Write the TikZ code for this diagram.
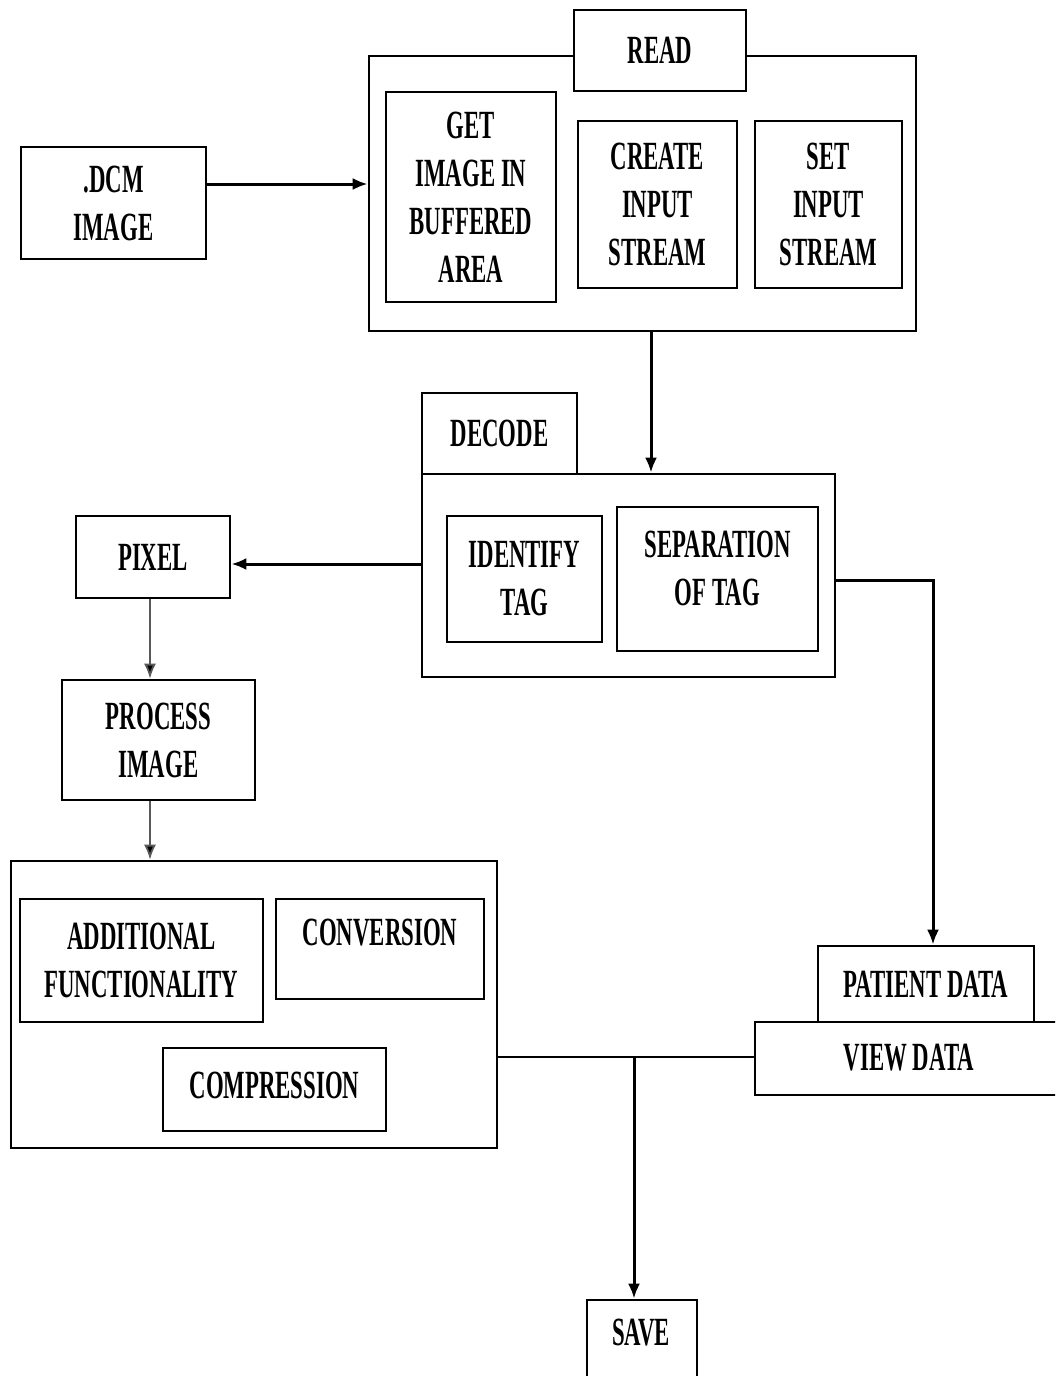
\documentclass[tikz,border=0pt]{standalone}
\usepackage{fontspec}
\usetikzlibrary{arrows.meta}
\newfontfamily\lblfont{Liberation Serif}[FakeStretch=0.57,UprightFont=*,UprightFeatures={FakeBold=0}]
\newcommand{\lblsize}{\lblfont\bfseries\fontsize{40}{48}\selectfont}
\tikzset{
  box/.style={draw, line width=2.6pt, rectangle, inner sep=0pt, align=center, fill=white, font=\lblsize},
  txt/.style={inner sep=0pt, align=center, font=\lblsize},
  arr/.style={line width=3pt, -{Latex[length=15pt,width=12pt]}},
  thinarr/.style={line width=1.8pt, draw=black!65, -{Latex[length=15pt,width=12pt,fill=black]}},
  plain/.style={line width=2.8pt}
}
\begin{document}
\begin{tikzpicture}[x=1pt,y=-1pt]
\useasboundingbox (0,0) rectangle (1055,1376);
\fill[white] (0,0) rectangle (1055,1376);
\clip (0,0) rectangle (1055,1376);

% READ group
\node[box, minimum width=547pt, minimum height=275pt] (readouter) at (642.5,193.5) {};
\node[box, minimum width=172pt, minimum height=81pt] (readlbl) at (660,50.5) {READ};
\node[box, minimum width=170pt, minimum height=210pt] (getimg) at (471,197) {GET\\IMAGE IN\\BUFFERED\\AREA};
\node[box, minimum width=159pt, minimum height=167pt] (create) at (657.5,204.5) {CREATE\\INPUT\\STREAM};
\node[box, minimum width=147pt, minimum height=167pt] (setin) at (828.5,204.5) {SET\\INPUT\\STREAM};

% DCM image
\node[box, minimum width=185pt, minimum height=112pt] (dcm) at (113.5,203) {.DCM\\IMAGE};

% DECODE group
\node[box, minimum width=413pt, minimum height=203pt] (decodeouter) at (628.5,575.5) {};
\node[box, minimum width=155pt, minimum height=81pt] (decodelbl) at (499.5,433.5) {DECODE};
\node[box, minimum width=155pt, minimum height=126pt] (identify) at (524.5,579) {IDENTIFY\\TAG};
\node[box, minimum width=201pt, minimum height=144pt] (separation) at (717.5,579) {};
\node[txt] (separationtxt) at (717.5,568) {SEPARATION\\OF TAG};

% Pixel and process
\node[box, minimum width=154pt, minimum height=82pt] (pixel) at (153,557) {PIXEL};
\node[box, minimum width=193pt, minimum height=120pt] (process) at (158.5,740) {PROCESS\\IMAGE};

% Functionality group
\node[box, minimum width=486pt, minimum height=287pt] (funcouter) at (254,1004.5) {};
\node[box, minimum width=243pt, minimum height=123pt] (additional) at (141.5,960.5) {ADDITIONAL\\FUNCTIONALITY};
\node[box, minimum width=208pt, minimum height=100pt] (conversion) at (380,949) {};
\node[txt] (conversiontxt) at (380,933) {CONVERSION};
\node[box, minimum width=223pt, minimum height=83pt] (compression) at (274.5,1089.5) {};
\node[txt] (compressiontxt) at (274.5,1085) {COMPRESSION};

% Patient / view data
\node[box, minimum width=216pt, minimum height=76pt] (patient) at (926,984) {PATIENT DATA};
\node[box, minimum width=315pt, minimum height=73pt] (viewdata) at (912.5,1058.5) {};
\node[txt] (viewdatatxt) at (909,1058) {VIEW DATA};

% Save
\node[box, minimum width=110pt, minimum height=90pt] (save) at (642,1345) {};
\node[txt] (savetxt) at (641,1333) {SAVE};

% Connectors
\draw[arr] ([yshift=19pt]dcm.east) -- ([yshift=19pt]dcm.east -| readouter.west);
\draw[arr] ([xshift=8.5pt]readouter.south) -- ([xshift=8.5pt]readouter.south |- decodeouter.north);
\draw[arr] ([yshift=11.5pt]decodeouter.west) -- ([yshift=11.5pt]decodeouter.west -| pixel.east);
\draw[thinarr] ([xshift=-3pt]pixel.south) -- ([xshift=-3pt]pixel.south |- process.north);
\draw[thinarr] ([xshift=-8.5pt]process.south) -- ([xshift=-8.5pt]process.south |- funcouter.north);
\draw[arr] ([yshift=-4.5pt]decodeouter.east) -| ([xshift=7pt]patient.north);
\coordinate (junc) at (634,1057);
\draw[plain] ([yshift=-52.5pt]funcouter.east) -- ([yshift=-52.5pt]funcouter.east -| viewdata.west);
\draw[arr] (junc) -- (junc |- save.north);
\end{tikzpicture}
\end{document}
